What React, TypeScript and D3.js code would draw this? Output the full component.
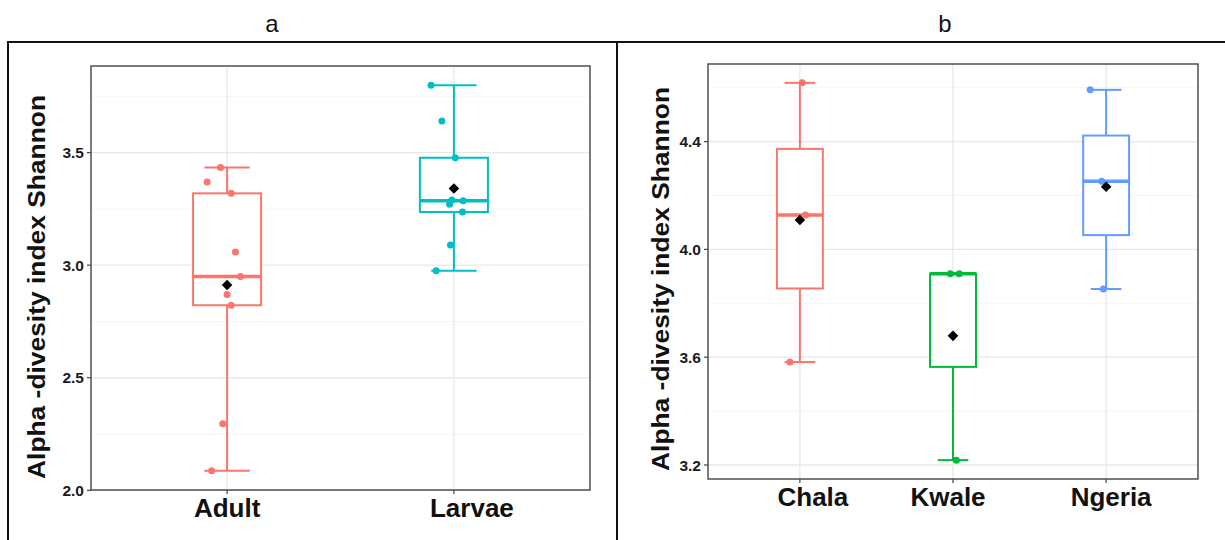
import React from "react";
import * as d3 from "d3";

// panel a : life stage
const stageNames = ["Adult", "Larvae"];
const adultValues = [3.434, 3.369, 3.319, 3.059, 2.95, 2.87, 2.822, 2.296, 2.087];
const adultJitter = [-0.029, -0.088, 0.018, 0.037, 0.059, 0.0, 0.018, -0.019, -0.068];
const larvaeValues = [3.799, 3.64, 3.477, 3.289, 3.286, 3.271, 3.236, 3.09, 2.975];
const larvaeJitter = [-0.101, -0.053, 0.006, -0.009, 0.041, -0.019, 0.038, -0.015, -0.078];
const stageTicks = [2.0, 2.5, 3.0, 3.5];
const stageMinor = [2.25, 2.75, 3.25, 3.75];

// panel b : site
const siteNames = ["Chala", "Kwale", "Ngeria"];
const chalaValues = [4.618, 4.128, 3.582];
const chalaJitter = [0.015, 0.037, -0.065];
const kwaleValues = [3.91, 3.91, 3.218];
const kwaleJitter = [-0.018, 0.041, 0.022];
const ngeriaValues = [4.592, 4.253, 3.853];
const ngeriaJitter = [-0.104, -0.029, -0.018];
const siteTicks = [3.2, 3.6, 4.0, 4.4];
const siteMinor = [3.4, 3.8, 4.2, 4.6];

const yTitle = "Alpha -divesity index Shannon";
const FONT = "'Liberation Sans', Arial, Helvetica, sans-serif";

// label shifts seen in the original figure
const labelNudge = { Adult: 0, Larvae: 18, Chala: 13, Kwale: -5, Ngeria: 5 };

function boxStats(vals) {
  const s = vals.slice().sort(d3.ascending);
  const q1 = d3.quantile(s, 0.25);
  const med = d3.quantile(s, 0.5);
  const q3 = d3.quantile(s, 0.75);
  const iqr = q3 - q1;
  const lo = d3.min(s.filter((v) => v >= q1 - 1.5 * iqr));
  const hi = d3.max(s.filter((v) => v <= q3 + 1.5 * iqr));
  return { q1, med, q3, lo, hi, mean: d3.mean(s) };
}

const Panel = (props) => {
  const { left, right, top, bottom, names, values, jitters, colors, ticks, minor, titleX, titleY } = props;
  const all = values.flat();
  const [mn, mx] = d3.extent(all);
  const pad = (mx - mn) * 0.05;
  const y = d3.scaleLinear().domain([mn - pad, mx + pad]).range([bottom, top]);
  const x = d3.scaleLinear().domain([0.4, names.length + 0.6]).range([left, right]);
  const unit = x(1) - x(0);
  const diamond = d3.symbol().type(d3.symbolDiamond2).size(72)();
  const fmt = d3.format(".1f");

  return (
    <g>
      {minor.map((t) => (
        <line key={"mi" + t} x1={left} x2={right} y1={y(t)} y2={y(t)} stroke="#F2F2F2" strokeWidth={0.8} />
      ))}
      {ticks.map((t) => (
        <line key={"ma" + t} x1={left} x2={right} y1={y(t)} y2={y(t)} stroke="#E8E8E8" strokeWidth={1.3} />
      ))}
      {names.map((n, i) => (
        <line key={"vx" + n} x1={x(i + 1)} x2={x(i + 1)} y1={top} y2={bottom} stroke="#E8E8E8" strokeWidth={1.3} />
      ))}
      {names.map((n, i) => {
        const st = boxStats(values[i]);
        const cx = x(i + 1);
        const c = colors[i];
        return (
          <g key={"bx" + n}>
            <line x1={cx} x2={cx} y1={y(st.hi)} y2={y(st.lo)} stroke={c} strokeWidth={2} />
            <line x1={cx - 0.1 * unit} x2={cx + 0.1 * unit} y1={y(st.hi)} y2={y(st.hi)} stroke={c} strokeWidth={2} />
            <line x1={cx - 0.1 * unit} x2={cx + 0.1 * unit} y1={y(st.lo)} y2={y(st.lo)} stroke={c} strokeWidth={2} />
            <rect x={cx - 0.15 * unit} width={0.3 * unit} y={y(st.q3)} height={y(st.q1) - y(st.q3)} fill="#fff" stroke={c} strokeWidth={2} />
            <line x1={cx - 0.15 * unit} x2={cx + 0.15 * unit} y1={y(st.med)} y2={y(st.med)} stroke={c} strokeWidth={3.5} />
            {values[i].map((v, j) => (
              <circle key={j} cx={x(i + 1 + jitters[i][j])} cy={y(v)} r={3.5} fill={c} />
            ))}
            <path d={diamond} transform={`translate(${cx},${y(st.mean)})`} fill="#000" />
          </g>
        );
      })}
      <rect x={left} y={top} width={right - left} height={bottom - top} fill="none" stroke="#444" strokeWidth={1.4} />
      {ticks.map((t) => (
        <g key={"yt" + t}>
          <line x1={left - 4} x2={left} y1={y(t)} y2={y(t)} stroke="#444" strokeWidth={1.2} />
          <text x={left - 7} y={y(t)} dy="0.36em" textAnchor="end" fontSize={15.5} fontWeight="bold" fill="#1a1a1a" fontFamily={FONT}>
            {fmt(t)}
          </text>
        </g>
      ))}
      {names.map((n, i) => (
        <g key={"xt" + n}>
          <line x1={x(i + 1)} x2={x(i + 1)} y1={bottom} y2={bottom + 4} stroke="#444" strokeWidth={1.2} />
          <text x={x(i + 1) + (labelNudge[n] || 0)} y={bottom + 27} textAnchor="middle" fontSize={26} fontWeight="bold" fill="#111" fontFamily={FONT}>
            {n}
          </text>
        </g>
      ))}
      <text
        transform={`translate(${titleX},${titleY}) rotate(-90)`}
        textAnchor="middle"
        fontSize={24}
        fontWeight="bold"
        fill="#111"
        fontFamily={FONT}
        textLength={384}
        lengthAdjust="spacingAndGlyphs"
      >
        {yTitle}
      </text>
    </g>
  );
};

const App = () => {
  return (
    <svg width={1225} height={540} style={{ position: "absolute", left: 0, top: 0, background: "#fff" }}>
      <rect x={0} y={0} width={1225} height={540} fill="#fff" />
      <text x={272} y={32} textAnchor="middle" fontSize={24} fill="#111" fontFamily={FONT}>a</text>
      <text x={945} y={32} textAnchor="middle" fontSize={24} fill="#111" fontFamily={FONT}>b</text>
      <line x1={8} x2={1225} y1={42} y2={42} stroke="#111" strokeWidth={2} />
      <line x1={8} x2={8} y1={41} y2={540} stroke="#111" strokeWidth={2} />
      <line x1={617} x2={617} y1={41} y2={540} stroke="#111" strokeWidth={2} />
      <Panel
        left={91}
        right={590}
        top={66}
        bottom={490}
        names={stageNames}
        values={[adultValues, larvaeValues]}
        jitters={[adultJitter, larvaeJitter]}
        colors={["#F8766D", "#00BFC4"]}
        ticks={stageTicks}
        minor={stageMinor}
        titleX={45}
        titleY={287}
      />
      <Panel
        left={708}
        right={1198}
        top={64}
        bottom={479}
        names={siteNames}
        values={[chalaValues, kwaleValues, ngeriaValues]}
        jitters={[chalaJitter, kwaleJitter, ngeriaJitter]}
        colors={["#F8766D", "#00BA38", "#619CFF"]}
        ticks={siteTicks}
        minor={siteMinor}
        titleX={669}
        titleY={279}
      />
    </svg>
  );
};

export default App;
